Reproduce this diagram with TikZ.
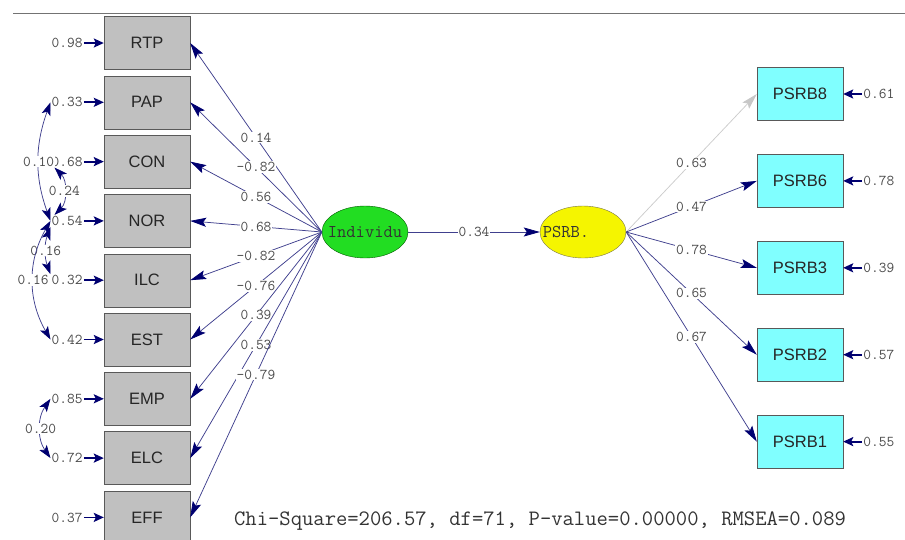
\documentclass[tikz,border=0pt]{standalone}
\usepackage{fontspec}
\setsansfont{Liberation Sans}
\usepackage{tikz}
\usetikzlibrary{positioning, shapes.geometric, arrows.meta, calc}

\definecolor{boxgrey}{HTML}{C0C0C0}
\definecolor{boxcyan}{HTML}{80FFFF}
\definecolor{latgreen}{HTML}{22DD22}
\definecolor{latyellow}{HTML}{F5F500}
\definecolor{pathblue}{HTML}{40408E}
\definecolor{tipblue}{HTML}{000070}
\definecolor{numgrey}{HTML}{4A4A4A}

\begin{document}
\begin{tikzpicture}[x=1pt, y=1pt,
                obsgrey/.style={draw=black!65, fill=boxgrey, rectangle, minimum width=86pt, minimum height=53pt, inner sep=0pt, font=\sffamily\fontsize{16.5}{16.5}\selectfont, text=black!85},
                obscyan/.style={obsgrey, fill=boxcyan},
                latent/.style={draw, ellipse, minimum width=86pt, minimum height=52pt, inner sep=0pt, font=\ttfamily\fontsize{18}{18}\selectfont, text=black!80},
                numlabel/.style={font=\ttfamily\fontsize{15}{15}\selectfont, text=numgrey, inner sep=1pt},
                pathlabel/.style={numlabel, fill=white},
                loading/.style={draw=pathblue, line width=0.75pt, -{Stealth[length=16pt, width=9pt, inset=3pt, color=tipblue]}},
                loadinggrey/.style={draw=black!20, line width=0.75pt, -{Stealth[length=16pt, width=9pt, inset=3pt, color=black!22]}},
                errarrow/.style={draw=tipblue, line width=1.8pt, -{Stealth[length=10pt, width=9pt, inset=2pt]}},
                covarc/.style={draw=pathblue, line width=0.75pt, {Stealth[length=13pt, width=9pt, inset=3pt, color=tipblue]}-{Stealth[length=13pt, width=9pt, inset=3pt, color=tipblue]}}
            ]
            \useasboundingbox (0,0) rectangle (905,-539);

            % Rahmenlinie oben
            \draw[black!55, line width=0.8pt] (13,-13) -- (905,-13);

            % Knoten links
            \node[obsgrey] (RTP) at (147,-43) {RTP};
            \node[obsgrey, below=5.9pt of RTP] (PAP) {PAP};
            \node[obsgrey, below=5.9pt of PAP] (CON) {CON};
            \node[obsgrey, below=5.9pt of CON] (NOR) {NOR};
            \node[obsgrey, below=5.9pt of NOR] (ILC) {ILC};
            \node[obsgrey, below=5.9pt of ILC] (EST) {EST};
            \node[obsgrey, below=5.9pt of EST] (EMP) {EMP};
            \node[obsgrey, below=5.9pt of EMP] (ELC) {ELC};
            \node[obsgrey, below=5.9pt of ELC] (EFF) {EFF};

            % latente Variablen
            \node[latent, fill=latgreen, draw=green!35!black] (Indiv) at (365,-232) {\makebox[0pt]{Individu}};
            \node[latent, fill=latyellow, draw=yellow!40!black] (PSRB) at (583,-232) {\makebox[0pt]{PSRB.\hspace{34pt}}};

            % Knoten rechts
            \node[obscyan] (PSRB8) at (800,-94) {PSRB8};
            \node[obscyan, below=33.5pt of PSRB8] (PSRB6) {PSRB6};
            \node[obscyan, below=33.5pt of PSRB6] (PSRB3) {PSRB3};
            \node[obscyan, below=33.5pt of PSRB3] (PSRB2) {PSRB2};
            \node[obscyan, below=33.5pt of PSRB2] (PSRB1) {PSRB1};

            % Fehlervarianzen
            \node[numlabel, left=20pt of RTP] (eRTP) {0.98};
            \node[numlabel, left=20pt of PAP] (ePAP) {0.33};
            \node[numlabel, left=20pt of CON] (eCON) {0.68};
            \node[numlabel, left=20pt of NOR] (eNOR) {0.54};
            \node[numlabel, left=20pt of ILC] (eILC) {0.32};
            \node[numlabel, left=20pt of EST] (eEST) {0.42};
            \node[numlabel, left=20pt of EMP] (eEMP) {0.85};
            \node[numlabel, left=20pt of ELC] (eELC) {0.72};
            \node[numlabel, left=20pt of EFF] (eEFF) {0.37};
            \node[numlabel, right=19pt of PSRB8] (ePSRB8) {0.61};
            \node[numlabel, right=19pt of PSRB6] (ePSRB6) {0.78};
            \node[numlabel, right=19pt of PSRB3] (ePSRB3) {0.39};
            \node[numlabel, right=19pt of PSRB2] (ePSRB2) {0.57};
            \node[numlabel, right=19pt of PSRB1] (ePSRB1) {0.55};

            \draw[errarrow] (eRTP) -- (RTP);
            \draw[errarrow] (ePAP) -- (PAP);
            \draw[errarrow] (eCON) -- (CON);
            \draw[errarrow] (eNOR) -- (NOR);
            \draw[errarrow] (eILC) -- (ILC);
            \draw[errarrow] (eEST) -- (EST);
            \draw[errarrow] (eEMP) -- (EMP);
            \draw[errarrow] (eELC) -- (ELC);
            \draw[errarrow] (eEFF) -- (EFF);
            \draw[errarrow] (ePSRB8) -- (PSRB8);
            \draw[errarrow] (ePSRB6) -- (PSRB6);
            \draw[errarrow] (ePSRB3) -- (PSRB3);
            \draw[errarrow] (ePSRB2) -- (PSRB2);
            \draw[errarrow] (ePSRB1) -- (PSRB1);

            % Ladungen
            \draw[loading] (Indiv.west) -- (RTP.east) node[pathlabel, pos=0.5] {0.14};
            \draw[loading] (Indiv.west) -- (PAP.east) node[pathlabel, pos=0.5] {-0.82};
            \draw[loading] (Indiv.west) -- (CON.east) node[pathlabel, pos=0.5] {0.56};
            \draw[loading] (Indiv.west) -- (NOR.east) node[pathlabel, pos=0.5] {0.68};
            \draw[loading] (Indiv.west) -- (ILC.east) node[pathlabel, pos=0.5] {-0.82};
            \draw[loading] (Indiv.west) -- (EST.east) node[pathlabel, pos=0.5] {-0.76};
            \draw[loading] (Indiv.west) -- (EMP.east) node[pathlabel, pos=0.5] {0.39};
            \draw[loading] (Indiv.west) -- (ELC.east) node[pathlabel, pos=0.5] {0.53};
            \draw[loading] (Indiv.west) -- (EFF.east) node[pathlabel, pos=0.5] {-0.79};

            \draw[loading] (Indiv) -- (PSRB) node[pathlabel, midway] {0.34};

            \draw[loadinggrey] (PSRB.east) -- (PSRB8.west) node[pathlabel, pos=0.5] {0.63};
            \draw[loading] (PSRB.east) -- (PSRB6.west) node[pathlabel, pos=0.5] {0.47};
            \draw[loading] (PSRB.east) -- (PSRB3.west) node[pathlabel, pos=0.5] {0.78};
            \draw[loading] (PSRB.east) -- (PSRB2.west) node[pathlabel, pos=0.5] {0.65};
            \draw[loading] (PSRB.east) -- (PSRB1.west) node[pathlabel, pos=0.5] {0.67};

            % Kovarianzen der Fehler
            \draw[covarc] (ePAP.west) to[out=250, in=110] node[pathlabel] {0.10} (eNOR.west);
            \draw[covarc] ([xshift=4pt]eCON.south west) to[out=-45, in=45] node[pathlabel] {0.24} ([xshift=4pt]eNOR.north west);
            \draw[covarc] (eNOR.south west) to[out=250, in=110] node[pathlabel] {0.16} (eILC.north west);
            \draw[covarc] (eNOR.west) to[out=240, in=120] node[pathlabel] {0.16} (eEST.west);
            \draw[covarc] (eEMP.west) to[out=235, in=125] node[pathlabel] {0.20} (eELC.west);

            % Fit-Werte
            \node[font=\ttfamily\fontsize{22}{22}\selectfont, text=black!80] (fitinfo) at (540,-521) {Chi-Square=206.57, df=71, P-value=0.00000, RMSEA=0.089};

        \end{tikzpicture}
\end{document}
